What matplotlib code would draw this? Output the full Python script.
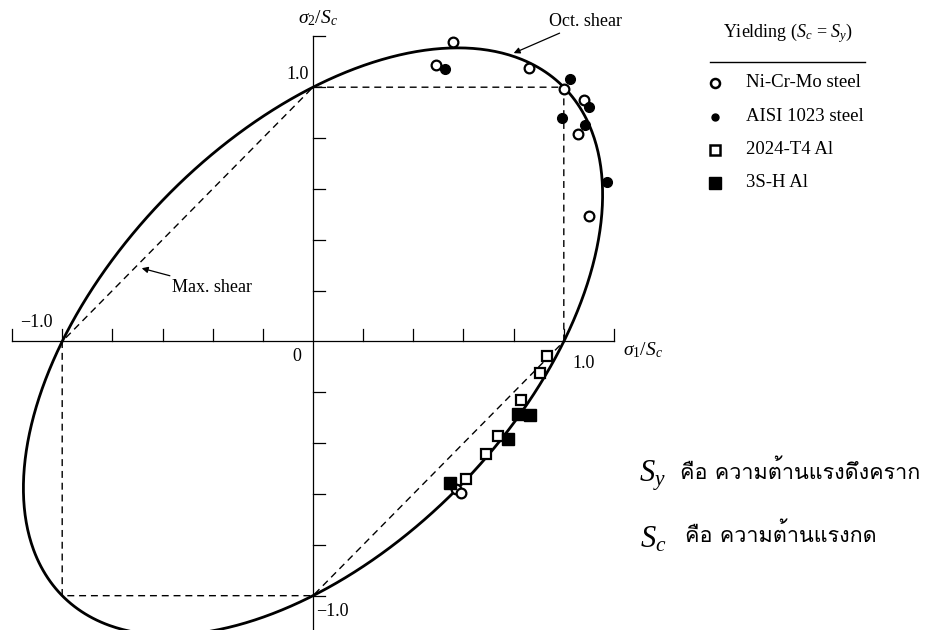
import numpy as np
import matplotlib
matplotlib.use("Agg")
import matplotlib.pyplot as plt
from matplotlib import font_manager, ft2font

plt.rcParams['font.family'] = 'Liberation Serif'
plt.rcParams['mathtext.fontset'] = 'custom'
plt.rcParams['mathtext.rm'] = 'Liberation Serif'
plt.rcParams['mathtext.it'] = 'Liberation Serif:italic'


# pick any installed font that can draw Thai
def thai_font():
    for f in font_manager.fontManager.ttflist:
        try:
            if ord('ค') in ft2font.FT2Font(f.fname).get_charmap():
                return f.name
        except Exception:
            pass
    return 'DejaVu Sans'


THAI = thai_font()

# test points, sigma/Sc
nicrmo_x = [0.559, 0.490, 0.863, 1.000, 1.082, 1.055, 1.101, 0.572, 0.592]
nicrmo_y = [1.178, 1.089, 1.076, 0.994, 0.951, 0.814, 0.493, -0.581, -0.597]
aisi_x = [0.528, 1.025, 1.099, 0.993, 1.084, 1.174]
aisi_y = [1.070, 1.033, 0.921, 0.880, 0.853, 0.626]
t4_x = [0.933, 0.905, 0.831, 0.737, 0.691, 0.611]
t4_y = [-0.057, -0.126, -0.232, -0.371, -0.444, -0.541]
h3s_x = [0.816, 0.865, 0.778, 0.547]
h3s_y = [-0.285, -0.288, -0.384, -0.558]

# max shear hexagon corners
hex_x = [1, 1, 0, -1, -1, 0, 1]
hex_y = [0, 1, 1, 0, -1, -1, 0]

ticks = [-1.2, -1.0, -0.8, -0.6, -0.4, -0.2, 0.2, 0.4, 0.6, 0.8, 1.0, 1.2]
ytick_vals = [-1.0, -0.8, -0.6, -0.4, -0.2, 0.2, 0.4, 0.6, 0.8, 1.0, 1.2]

legend_names = ["Ni-Cr-Mo steel", "AISI 1023 steel", "2024-T4 Al", "3S-H Al"]

fig = plt.figure(figsize=(9.34, 6.3), dpi=100)
ax = fig.add_axes([0, 0, 1, 1])
ax.set_xlim(-1.248, 2.476)
ax.set_ylim(-1.135, 1.343)
ax.axis('off')

# axes through origin
ax.plot([-1.2, 1.2], [0, 0], color='black', lw=0.9)
ax.plot([0, 0], [-1.2, 1.2], color='black', lw=0.9)
for t in ticks:
    ax.plot([t, t], [0, 0.05], color='black', lw=0.9)
for t in ytick_vals:
    ax.plot([0, 0.048], [t, t], color='black', lw=0.9)

# Tresca hexagon
ax.plot(hex_x, hex_y, color='black', lw=1.0, ls=(0, (5, 3.5)))

# von Mises ellipse: s1^2 - s1*s2 + s2^2 = 1
th = np.linspace(0, 2 * np.pi, 600)
u = np.sqrt(2) * np.cos(th)
v = np.sqrt(2 / 3) * np.sin(th)
ax.plot((u + v) / np.sqrt(2), (u - v) / np.sqrt(2), color='black', lw=2.0)

ms = 7
ax.plot(nicrmo_x, nicrmo_y, 'o', ms=ms, mfc='white', mec='black', mew=1.6, zorder=5)
ax.plot(aisi_x, aisi_y, 'o', ms=ms, mfc='black', mec='black', zorder=5)
ax.plot(t4_x, t4_y, 's', ms=7.5, mfc='white', mec='black', mew=1.6, zorder=5)
ax.plot(h3s_x, h3s_y, 's', ms=8, mfc='black', mec='black', zorder=5)

fs = 13
ax.text(0.02, 1.273, r'$\sigma_2/S_c$', fontsize=14, ha='center', va='center')
ax.text(1.236, -0.033, r'$\sigma_1/S_c$', fontsize=14, ha='left', va='center')
ax.text(-0.06, 1.048, '1.0', fontsize=fs, ha='center', va='center')
ax.text(-0.064, -0.061, '0', fontsize=fs, ha='center', va='center')
ax.text(-1.104, 0.073, '\u22121.0', fontsize=fs, ha='center', va='center')
ax.text(1.077, -0.085, '1.0', fontsize=fs, ha='center', va='center')
ax.text(0.076, -1.064, '\u22121.0', fontsize=fs, ha='center', va='center')

ax.annotate('Max. shear', xy=(-0.683, 0.288), xytext=(-0.562, 0.214),
            fontsize=fs, ha='left', va='center',
            arrowprops=dict(arrowstyle='-|>', color='black', lw=0.9,
                            mutation_scale=9, shrinkA=0, shrinkB=0))
ax.annotate('Oct. shear', xy=(0.800, 1.134), xytext=(0.941, 1.257),
            fontsize=fs, ha='left', va='center',
            arrowprops=dict(arrowstyle='-|>', color='black', lw=0.9,
                            mutation_scale=9, shrinkA=0, shrinkB=0))

# legend box on the right
ax.text(1.894, 1.214, r'Yielding ($S_c$ = $S_y$)', fontsize=fs, ha='center', va='center')
ax.plot([1.583, 2.201], [1.100, 1.100], color='black', lw=1.0)
rows = [1.017, 0.883, 0.753, 0.624]
styles = [dict(marker='o', ms=6.5, mfc='white', mec='black', mew=1.8),
          dict(marker='o', ms=5, mfc='black', mec='black'),
          dict(marker='s', ms=6.5, mfc='white', mec='black', mew=1.8),
          dict(marker='s', ms=8, mfc='black', mec='black')]
for y, name, st in zip(rows, legend_names, styles):
    ax.plot([1.603], [y], ls='none', **st)
    ax.text(1.726, y, name, fontsize=13.5, ha='left', va='center')

# Thai notes
ax.text(1.30, -0.53, r'$S_y$', fontsize=22, ha='left', va='center')
ax.text(1.463, -0.513, 'คือ ความต้านแรงดึงคราก', fontsize=15.5,
        family=[THAI, 'DejaVu Sans'], ha='left', va='center')
ax.text(1.304, -0.78, r'$S_c$', fontsize=22, ha='left', va='center')
ax.text(1.483, -0.761, 'คือ ความต้านแรงกด', fontsize=15.5,
        family=[THAI, 'DejaVu Sans'], ha='left', va='center')

fig.savefig('out.png', dpi=100)
